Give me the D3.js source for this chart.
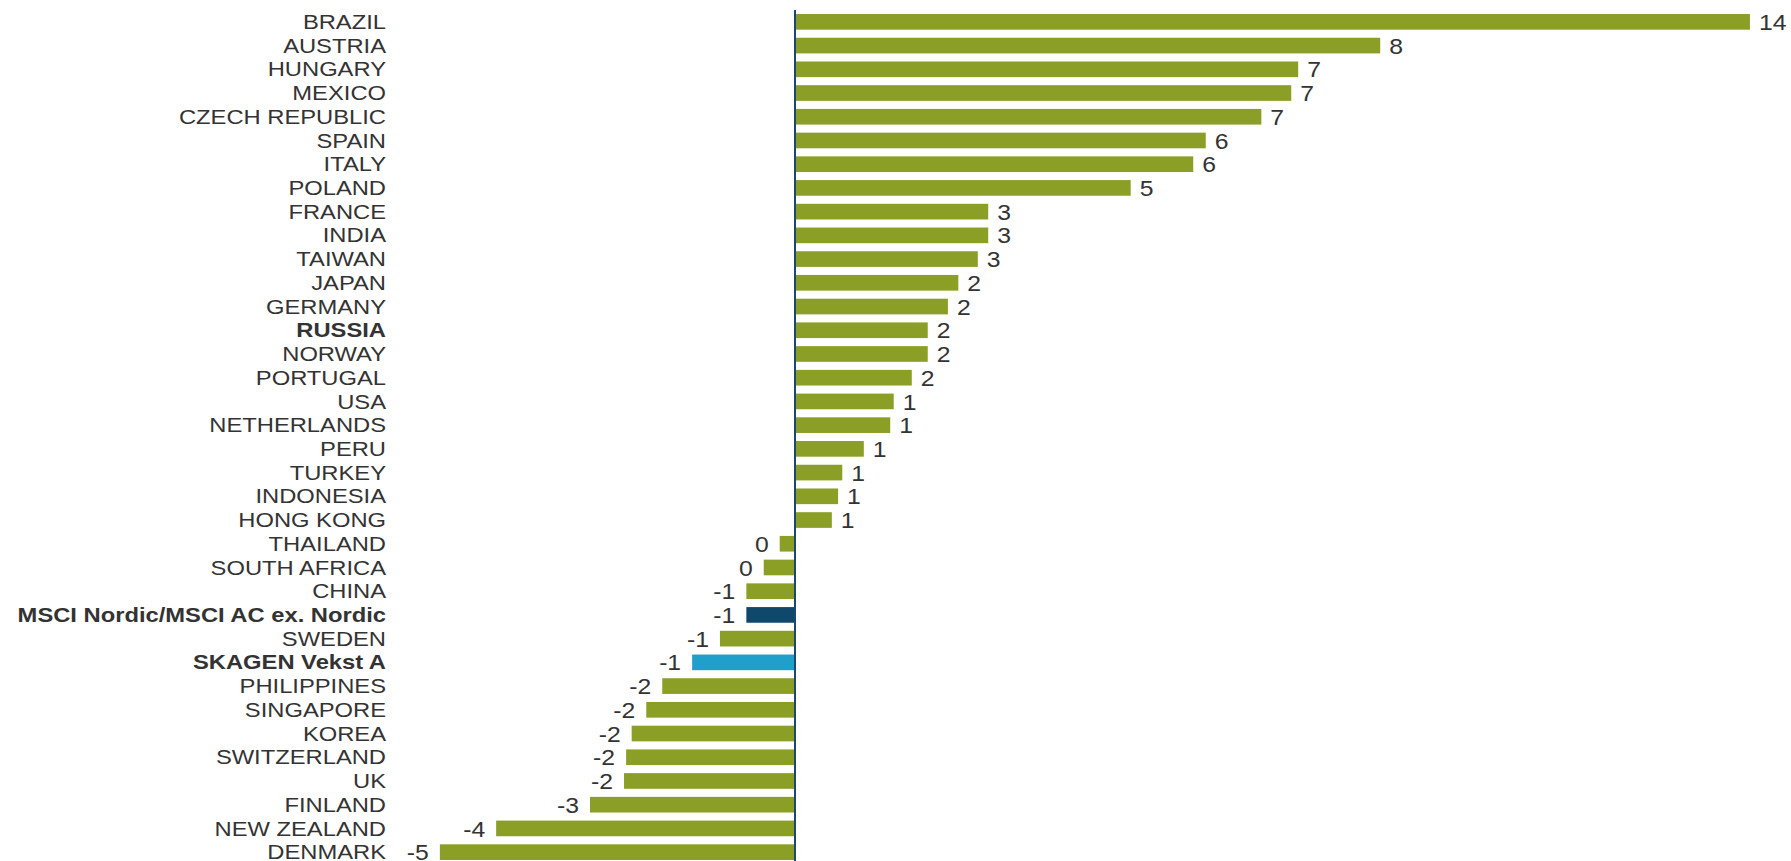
<!DOCTYPE html>
<html>
<head>
<meta charset="utf-8">
<script src="https://cdn.jsdelivr.net/npm/d3@7"></script>
<style>
  html, body { margin: 0; padding: 0; background: #fff; }
  svg { display: block; }
  text { font-family: "Liberation Sans", Arial, sans-serif; fill: #333; }
</style>
</head>
<body>
<div id="chart"></div>
<script>
// countries, top to bottom as in the chart
const countries = [
  'BRAZIL', 'AUSTRIA', 'HUNGARY', 'MEXICO', 'CZECH REPUBLIC', 'SPAIN', 'ITALY', 'POLAND',
  'FRANCE', 'INDIA', 'TAIWAN', 'JAPAN', 'GERMANY', 'RUSSIA', 'NORWAY', 'PORTUGAL', 'USA',
  'NETHERLANDS', 'PERU', 'TURKEY', 'INDONESIA', 'HONG KONG', 'THAILAND', 'SOUTH AFRICA',
  'CHINA', 'MSCI Nordic/MSCI AC ex. Nordic', 'SWEDEN', 'SKAGEN Vekst A', 'PHILIPPINES',
  'SINGAPORE', 'KOREA', 'SWITZERLAND', 'UK', 'FINLAND', 'NEW ZEALAND', 'DENMARK'
];

// return in % (labels show rounded values)
const returns = [
  13.74, 8.42, 7.24, 7.14, 6.71, 5.91, 5.73, 4.83,
  2.78, 2.78, 2.63, 2.35, 2.20, 1.91, 1.91, 1.68, 1.42,
  1.37, 0.99, 0.68, 0.62, 0.53, -0.22, -0.45,
  -0.70, -0.70, -1.08, -1.48, -1.91,
  -2.14, -2.35, -2.43, -2.46, -2.95, -4.30, -5.11
];

const xDomain = [-5, 14];

const width = 1791;
const height = 861;

const green = '#8b9e26';
const navy = '#10486b';
const sky = '#1f9fc9';
const axisColor = '#1a4870';

const benchmark = 'MSCI Nordic/MSCI AC ex. Nordic';
const fund = 'SKAGEN Vekst A';
const boldRows = new Set(['RUSSIA', benchmark, fund]);

const data = countries.map((c, i) => ({ name: c, value: returns[i] }));

const svg = d3.select('#chart')
  .append('svg')
  .attr('width', width)
  .attr('height', height);

const x = d3.scaleLinear()
  .domain(xDomain)
  .range([795 - 5 * 69.5, 795 + 14 * 69.5]);

const y = d3.scaleBand()
  .domain(countries)
  .range([10, 864])
  .paddingInner(0.34)
  .paddingOuter(0.17);

const fill = d => d.name === benchmark ? navy : d.name === fund ? sky : green;

// bars
svg.append('g')
  .selectAll('rect')
  .data(data)
  .join('rect')
  .attr('x', d => x(Math.min(0, d.value)))
  .attr('y', d => y(d.name))
  .attr('width', d => Math.abs(x(d.value) - x(0)))
  .attr('height', y.bandwidth())
  .attr('fill', fill);

// zero line
svg.append('line')
  .attr('x1', x(0))
  .attr('x2', x(0))
  .attr('y1', 10)
  .attr('y2', height)
  .attr('stroke', axisColor)
  .attr('stroke-width', 2);

// category labels (source text is drawn slightly wide)
svg.append('g')
  .selectAll('text')
  .data(data)
  .join('text')
  .attr('transform', d => `translate(386,${y(d.name) + y.bandwidth() / 2}) scale(1.17,1)`)
  .attr('text-anchor', 'end')
  .attr('dy', '0.35em')
  .attr('font-size', '20.3px')
  .attr('font-weight', d => boldRows.has(d.name) ? 'bold' : 'normal')
  .text(d => d.name);

// value labels
const fmt = v => String(Math.round(v) || 0);

svg.append('g')
  .selectAll('text')
  .data(data)
  .join('text')
  .attr('transform', d => {
    const px = d.value >= 0 ? x(d.value) + 9 : x(d.value) - 11;
    return `translate(${px},${y(d.name) + y.bandwidth() / 2}) scale(1.1,1)`;
  })
  .attr('text-anchor', d => d.value >= 0 ? 'start' : 'end')
  .attr('dy', '0.36em')
  .attr('font-size', '22.5px')
  .text(d => fmt(d.value));
</script>
</body>
</html>
